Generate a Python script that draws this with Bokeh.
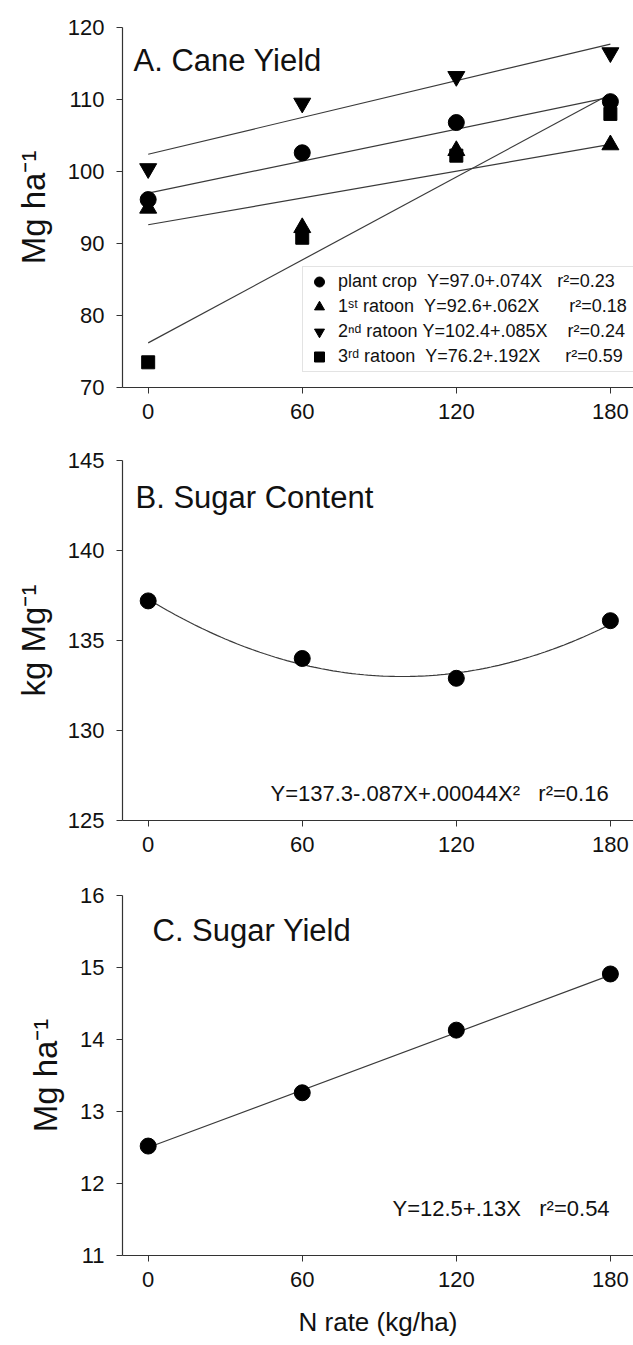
import numpy as np
from bokeh.plotting import figure
from bokeh.layouts import column
from bokeh.models import Range1d, FixedTicker, Label, Legend, LegendItem
from bokeh.embed import file_html
from bokeh.resources import INLINE

FONT = "Liberation Sans"
NB = "\u00a0"

# ---------------- data ----------------
n_rate = [0, 60, 120, 180]

# Panel A: cane yield (Mg/ha)
plant_crop = [96.1, 102.6, 106.8, 109.7]
ratoon_1 = [94.9, 92.2, 102.9, 103.7]
ratoon_2 = [100.4, 109.5, 113.2, 116.5]
ratoon_3 = [73.5, 90.8, 102.2, 108.0]
series_names = ["plant crop", "1\u02e2\u1d57 ratoon", "2\u207f\u1d48 ratoon", "3\u02b3\u1d48 ratoon"]
fit_intercepts_a = [97.0, 92.6, 102.4, 76.2]
fit_slopes_a = [0.074, 0.062, 0.085, 0.192]
equations_a = ["Y=97.0+.074X", "Y=92.6+.062X", "Y=102.4+.085X", "Y=76.2+.192X"]
r2_a = ["0.23", "0.18", "0.24", "0.59"]
yticks_a = [70, 80, 90, 100, 110, 120]

# Panel B: sugar content (kg/Mg)
sugar_content = [137.2, 134.0, 132.9, 136.1]
quad_coef_b = [137.3, -0.087, 0.00044]
equation_b = "Y=137.3-.087X+.00044X\u00b2" + NB * 3 + "r\u00b2=0.16"
yticks_b = [125, 130, 135, 140, 145]

# Panel C: sugar yield (Mg/ha)
sugar_yield = [12.52, 13.26, 14.13, 14.91]
lin_coef_c = [12.5, 0.0133]
equation_c = "Y=12.5+.13X" + NB * 3 + "r\u00b2=0.54"
yticks_c = [11, 12, 13, 14, 15, 16]

LINE_COLOR = "#3a3a3a"


def make_fig(h, top, bottom, yr):
    p = figure(width=633, height=h, x_range=Range1d(-10, 189), y_range=Range1d(*yr),
               output_backend="svg", toolbar_location=None,
               min_border_left=122, min_border_right=0,
               min_border_top=top, min_border_bottom=bottom)
    p.grid.visible = False
    p.outline_line_color = None
    p.background_fill_color = "white"
    p.border_fill_color = "white"
    return p


def style(p, yticks, ylabel, xlabel=None):
    p.xaxis.ticker = FixedTicker(ticks=n_rate)
    p.yaxis.ticker = FixedTicker(ticks=yticks)
    for ax in (p.xaxis[0], p.yaxis[0]):
        ax.major_label_text_font = FONT
        ax.major_label_text_font_size = "22px"
        ax.major_label_text_color = "#111111"
        ax.axis_line_color = "#333333"
        ax.axis_line_width = 1.2
        ax.major_tick_line_color = "#333333"
        ax.major_tick_in = 0
        ax.major_tick_out = 6
        ax.minor_tick_line_color = None
        ax.axis_label_text_font = FONT
        ax.axis_label_text_font_style = "normal"
        ax.axis_label_text_color = "#111111"
    p.xaxis.major_label_standoff = 10
    p.yaxis.major_label_standoff = 12
    p.yaxis.axis_label = ylabel
    p.yaxis.axis_label_text_font_size = "33px"
    p.yaxis.axis_label_standoff = 13
    if xlabel:
        p.xaxis.axis_label = xlabel
        p.xaxis.axis_label_text_font_size = "26px"
        p.xaxis.axis_label_standoff = 17


def title(p, text, x, y):
    p.add_layout(Label(x=x, y=y, x_units="screen", y_units="screen", text=text,
                       text_font=FONT, text_font_size="31px", text_color="#111111",
                       text_baseline="alphabetic"))


def note(p, text, x, y):
    p.add_layout(Label(x=x, y=y, x_units="screen", y_units="screen", text=text,
                       text_font=FONT, text_font_size="22px", text_color="#111111",
                       text_baseline="alphabetic"))


# ---------------- Panel A ----------------
pA = make_fig(444, 27, 57, (70, 120))
style(pA, yticks_a, "Mg ha\u207b\u00b9")
fit_x = [n_rate[0], n_rate[-1]]
for a, b in zip(fit_intercepts_a, fit_slopes_a):
    pA.line(fit_x, [a + b * v for v in fit_x], line_color=LINE_COLOR, line_width=1.2)

r_plant = pA.scatter(n_rate, plant_crop, marker="circle", size=16, color="black")
r_r1 = pA.scatter(n_rate, ratoon_1, marker="triangle", size=17, color="black")
r_r2 = pA.scatter(n_rate, ratoon_2, marker="inverted_triangle", size=17, color="black")
r_r3 = pA.scatter(n_rate, ratoon_3, marker="square", size=13, color="black")

gap1 = [2, 2, 1, 2]
gap2 = [3, 6, 4, 5]
labels = [f"{n}{NB * g1}{e}{NB * g2}r\u00b2={r}"
          for n, e, r, g1, g2 in zip(series_names, equations_a, r2_a, gap1, gap2)]
renderers = [r_plant, r_r1, r_r2, r_r3]
legend = Legend(items=[LegendItem(label=l, renderers=[r]) for l, r in zip(labels, renderers)],
                location=(180, 15), glyph_width=28, glyph_height=25, spacing=0,
                padding=2, margin=0, label_standoff=5, label_width=293, label_height=25,
                label_text_font=FONT, label_text_font_size="18px", label_text_color="#111111",
                border_line_color="#c8c8c8", border_line_width=1.5,
                background_fill_color="white", background_fill_alpha=1.0)
pA.add_layout(legend, "center")
title(pA, "A. Cane Yield", 11, 327)

# ---------------- Panel B ----------------
pB = make_fig(436, 16, 60, (125, 145))
style(pB, yticks_b, "kg Mg\u207b\u00b9")
xs = np.linspace(n_rate[0], n_rate[-1], 121)
ys = quad_coef_b[0] + quad_coef_b[1] * xs + quad_coef_b[2] * xs ** 2
pB.line(xs, ys, line_color=LINE_COLOR, line_width=1.2)
pB.scatter(n_rate, sugar_content, marker="circle", size=16, color="black")
title(pB, "B. Sugar Content", 13, 323)
note(pB, equation_b, 148, 27)

# ---------------- Panel C ----------------
pC = make_fig(465, 15, 90, (11, 16))
style(pC, yticks_c, "Mg ha\u207b\u00b9", "N rate (kg/ha)")
pC.line(fit_x, [lin_coef_c[0] + lin_coef_c[1] * v for v in fit_x], line_color=LINE_COLOR, line_width=1.2)
pC.scatter(n_rate, sugar_yield, marker="circle", size=16, color="black")
title(pC, "C. Sugar Yield", 30, 325)
note(pC, equation_c, 270, 47)

layout = column(pA, pB, pC, spacing=0)
open("out.html", "w").write(file_html(layout, INLINE))
